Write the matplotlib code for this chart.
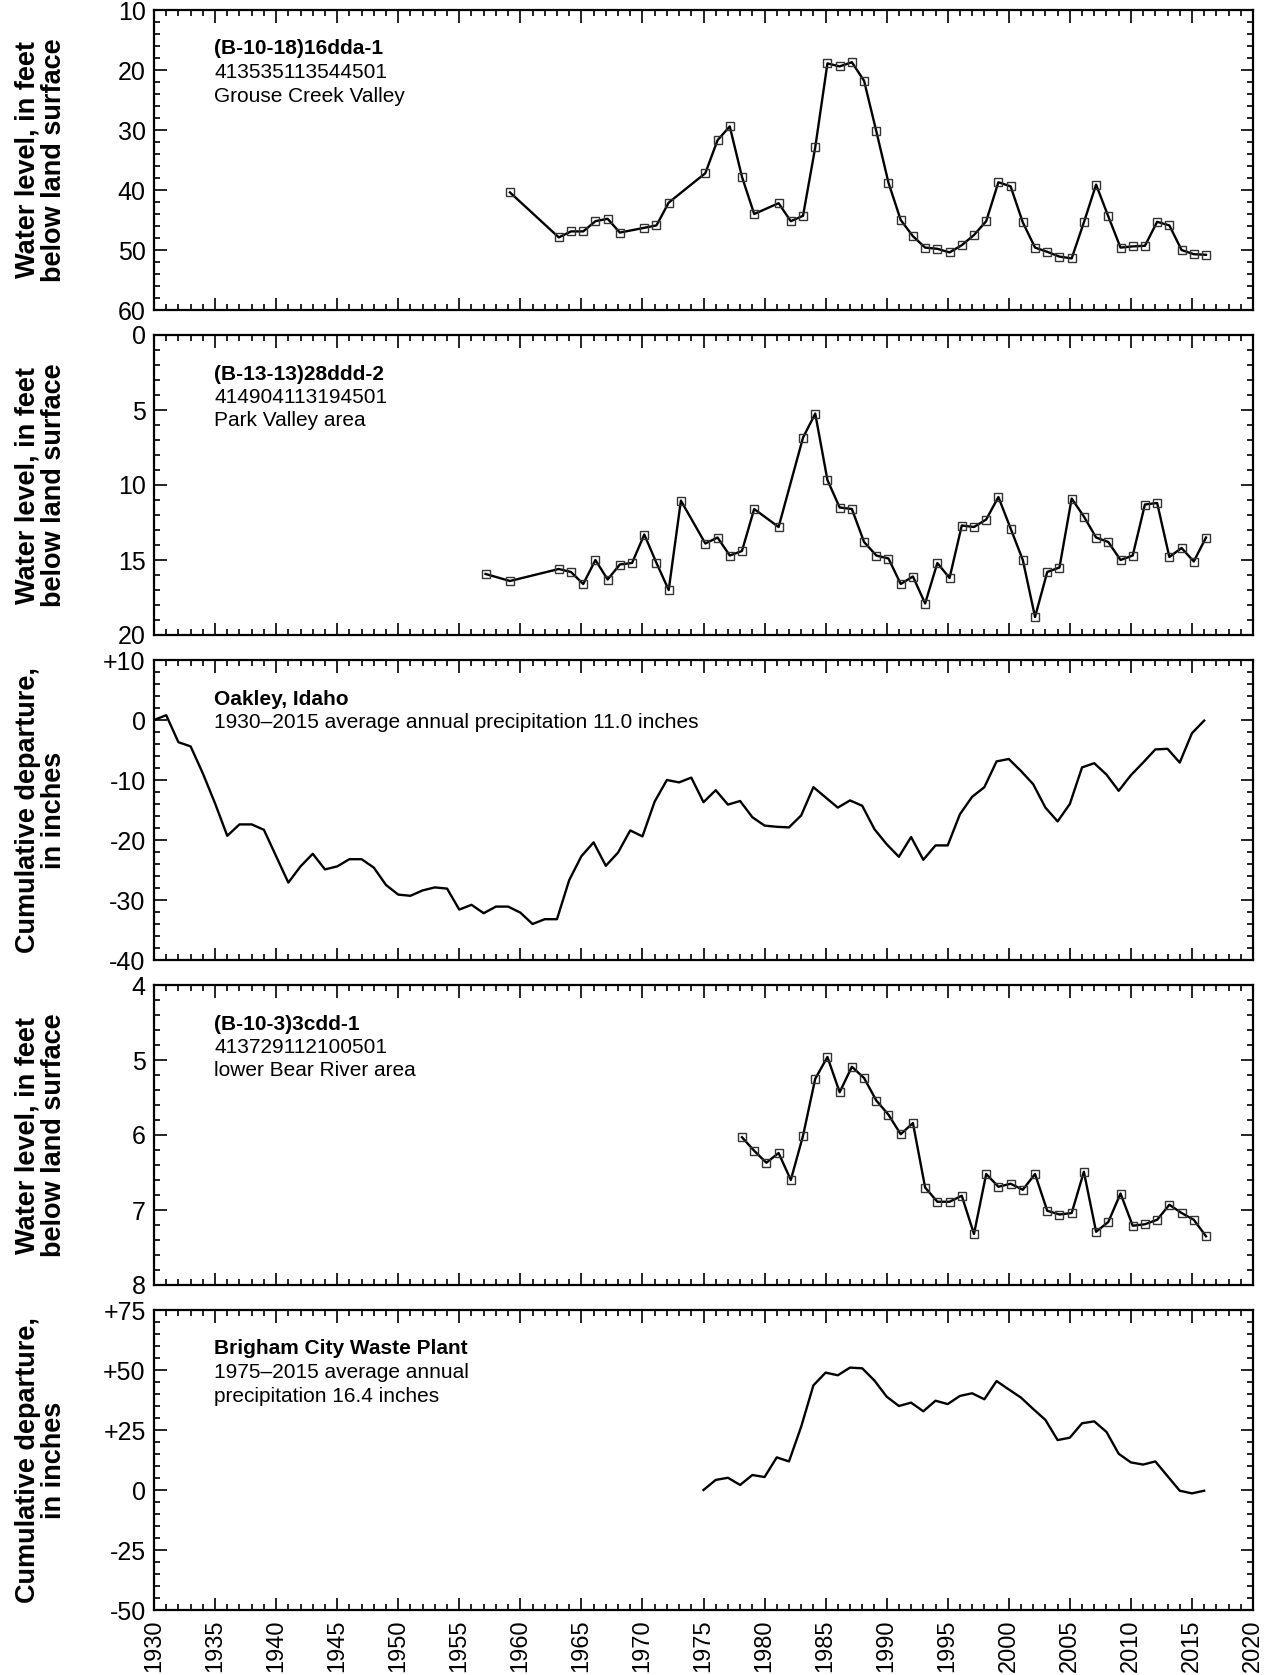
import matplotlib
matplotlib.use("Agg")
import matplotlib.pyplot as plt
from matplotlib.ticker import MultipleLocator, FixedLocator, FixedFormatter

plt.rcParams['font.family'] = ['Liberation Sans', 'DejaVu Sans']

# ---------------- data ----------------
# Well (B-10-18)16dda-1, Grouse Creek Valley (feet below land surface)
w1_years = [1959, 1963, 1964, 1965, 1966, 1967, 1968, 1970, 1971, 1972, 1975, 1976,
            1977, 1978, 1979, 1981, 1982, 1983, 1984, 1985, 1986, 1987, 1988, 1989,
            1990, 1991, 1992, 1993, 1994, 1995, 1996, 1997, 1998, 1999, 2000, 2001,
            2002, 2003, 2004, 2005, 2006, 2007, 2008, 2009, 2010, 2011, 2012, 2013,
            2014, 2015, 2016]
w1_levels = [40.4, 47.9, 46.9, 46.9, 45.2, 44.8, 47.1, 46.3, 45.9, 42.1, 37.2, 31.7,
             29.4, 37.8, 44.0, 42.2, 45.2, 44.3, 32.9, 18.9, 19.4, 18.7, 21.8, 30.2,
             38.8, 45.0, 47.7, 49.6, 49.8, 50.4, 49.2, 47.5, 45.2, 38.7, 39.4, 45.4,
             49.6, 50.3, 51.1, 51.4, 45.4, 39.1, 44.4, 49.6, 49.4, 49.3, 45.3, 45.9,
             50.0, 50.7, 50.8]

# Well (B-13-13)28ddd-2, Park Valley area
w2_years = [1957, 1959, 1963, 1964, 1965, 1966, 1967, 1968, 1969, 1970, 1971, 1972,
            1973, 1975, 1976, 1977, 1978, 1979, 1981, 1983, 1984, 1985, 1986, 1987,
            1988, 1989, 1990, 1991, 1992, 1993, 1994, 1995, 1996, 1997, 1998, 1999,
            2000, 2001, 2002, 2003, 2004, 2005, 2006, 2007, 2008, 2009, 2010, 2011,
            2012, 2013, 2014, 2015, 2016]
w2_levels = [15.93, 16.4, 15.6, 15.8, 16.6, 15.0, 16.3, 15.3, 15.2, 13.3, 15.2, 17.0,
             11.04, 13.9, 13.5, 14.7, 14.4, 11.6, 12.8, 6.84, 5.24, 9.67, 11.5, 11.6,
             13.8, 14.7, 14.9, 16.6, 16.1, 17.9, 15.2, 16.2, 12.7, 12.8, 12.3, 10.8,
             12.9, 15.0, 18.8, 15.8, 15.5, 10.9, 12.1, 13.5, 13.8, 15.0, 14.7, 11.3,
             11.2, 14.8, 14.2, 15.1, 13.5]

# Oakley, Idaho cumulative departure from average precipitation (inches), 1930-2016
oak_years = list(range(1930, 2017))
oak_dep = [0.0, 0.8, -3.7, -4.4, -8.9, -13.9, -19.3, -17.4, -17.4, -18.3,
           -22.7, -27.1, -24.4, -22.3, -24.9, -24.4, -23.2, -23.2, -24.6, -27.5,
           -29.1, -29.3, -28.4, -27.9, -28.1, -31.6, -30.8, -32.2, -31.1, -31.1,
           -32.1, -34.0, -33.2, -33.2, -26.7, -22.7, -20.4, -24.3, -22.1, -18.4,
           -19.4, -13.6, -10.0, -10.4, -9.6, -13.7, -11.7, -14.1, -13.5, -16.2,
           -17.6, -17.8, -17.9, -15.9, -11.2, -12.9, -14.6, -13.4, -14.3, -18.2,
           -20.7, -22.8, -19.5, -23.3, -20.9, -20.9, -15.7, -12.8, -11.2, -6.9,
           -6.5, -8.5, -10.7, -14.6, -16.9, -14.0, -7.9, -7.2, -9.1, -11.8,
           -9.2, -7.1, -4.9, -4.8, -7.1, -2.2, -0.1]

# Well (B-10-3)3cdd-1, lower Bear River area
w3_years = list(range(1978, 2017))
w3_levels = [6.03, 6.21, 6.37, 6.24, 6.60, 6.01, 5.25, 4.96, 5.43, 5.09,
             5.24, 5.54, 5.73, 5.99, 5.84, 6.70, 6.89, 6.89, 6.81, 7.32,
             6.52, 6.69, 6.65, 6.73, 6.52, 7.01, 7.06, 7.04, 6.49, 7.29,
             7.16, 6.78, 7.21, 7.19, 7.13, 6.93, 7.04, 7.13, 7.35]

# Brigham City Waste Plant cumulative departure (inches), 1975-2016
bc_years = list(range(1975, 2017))
bc_dep = [0.0, 4.2, 5.1, 2.1, 6.25, 5.4, 13.6, 11.9, 26.4, 43.6,
          48.9, 47.8, 51.0, 50.7, 45.6, 38.9, 35.0, 36.4, 32.8, 37.2,
          35.8, 39.2, 40.3, 37.8, 45.4, 41.9, 38.5, 33.75, 29.2, 20.8,
          21.8, 27.8, 28.6, 24.2, 15.1, 11.5, 10.6, 11.9, 5.8, -0.3,
          -1.4, -0.3]

x_ticks = list(range(1930, 2021, 5))

labels_well = "Water level, in feet\nbelow land surface"
labels_precip = "Cumulative departure,\nin inches"

panels = [
    dict(kind="well", x=w1_years, y=w1_levels, ylim=(60, 10), minor=2,
         ticks=[10, 20, 30, 40, 50, 60], ticklabels=["10", "20", "30", "40", "50", "60"],
         ylabel=labels_well,
         title="(B-10-18)16dda-1", lines=["413535113544501", "Grouse Creek Valley"]),
    dict(kind="well", x=w2_years, y=w2_levels, ylim=(20, 0), minor=1,
         ticks=[0, 5, 10, 15, 20], ticklabels=["0", "5", "10", "15", "20"],
         ylabel=labels_well,
         title="(B-13-13)28ddd-2", lines=["414904113194501", "Park Valley area"]),
    dict(kind="precip", x=oak_years, y=oak_dep, ylim=(-40, 10), minor=2,
         ticks=[10, 0, -10, -20, -30, -40], ticklabels=["+10", "0", "-10", "-20", "-30", "-40"],
         ylabel=labels_precip,
         title="Oakley, Idaho", lines=["1930\u20132015 average annual precipitation 11.0 inches"]),
    dict(kind="well", x=w3_years, y=w3_levels, ylim=(8, 4), minor=0.2,
         ticks=[4, 5, 6, 7, 8], ticklabels=["4", "5", "6", "7", "8"],
         ylabel=labels_well,
         title="(B-10-3)3cdd-1", lines=["413729112100501", "lower Bear River area"]),
    dict(kind="precip", x=bc_years, y=bc_dep, ylim=(-50, 75), minor=5,
         ticks=[75, 50, 25, 0, -25, -50], ticklabels=["+75", "+50", "+25", "0", "-25", "-50"],
         ylabel=labels_precip,
         title="Brigham City Waste Plant",
         lines=["1975\u20132015 average annual", "precipitation 16.4 inches"]),
]

# measurement timing within a year for well records (early spring)
MEAS_OFFSET = 0.15

W, H = 1270, 1675
fig = plt.figure(figsize=(W / 100, H / 100), dpi=100)

left_px, right_px = 154, 1253
tops = [10, 335, 660, 985, 1310]
ph = 300

for i, (p, top) in enumerate(zip(panels, tops)):
    ax = fig.add_axes([left_px / W, 1 - (top + ph) / H, (right_px - left_px) / W, ph / H])
    if p["kind"] == "well":
        xs = [v + MEAS_OFFSET for v in p["x"]]
        ax.plot(xs, p["y"], color="black", lw=1.7, marker="s", ms=6,
                mfc="none", mec="#333333", mew=1.0, zorder=3)
    else:
        ax.plot(p["x"], p["y"], color="black", lw=1.7, zorder=3)

    ax.set_xlim(1930, 2020)
    ax.set_ylim(*p["ylim"])
    ax.xaxis.set_major_locator(FixedLocator(x_ticks))
    ax.xaxis.set_minor_locator(MultipleLocator(1))
    ax.yaxis.set_major_locator(FixedLocator(p["ticks"]))
    ax.yaxis.set_major_formatter(FixedFormatter(p["ticklabels"]))
    ax.yaxis.set_minor_locator(MultipleLocator(p["minor"]))

    ax.tick_params(which="both", direction="in", top=True, right=True, width=1.2)
    ax.tick_params(which="major", length=9)
    ax.tick_params(which="minor", length=4.5)
    ax.tick_params(axis="y", pad=6, labelsize=18)
    ax.tick_params(axis="x", labelsize=17)
    if i < len(panels) - 1:
        ax.tick_params(axis="x", labelbottom=False)
    else:
        ax.set_xticklabels([str(v) for v in x_ticks], rotation=90)
        ax.tick_params(axis="x", pad=7)

    for s in ax.spines.values():
        s.set_linewidth(1.6)

    ax.text(-0.103, 0.5, p["ylabel"], transform=ax.transAxes, rotation=90,
            ha="center", va="center", multialignment="center",
            fontsize=19.5, fontweight="bold", linespacing=1.0)

    # annotation block
    x0 = 0.055
    y0 = 1 - 44.5 / ph
    step = 23.5 / ph
    ax.text(x0, y0, p["title"], transform=ax.transAxes, fontsize=15,
            fontweight="bold", va="baseline", ha="left")
    for k, line in enumerate(p["lines"]):
        ax.text(x0, y0 - step * (k + 1), line, transform=ax.transAxes,
                fontsize=15, va="baseline", ha="left")

fig.savefig("out.png", dpi=100)
